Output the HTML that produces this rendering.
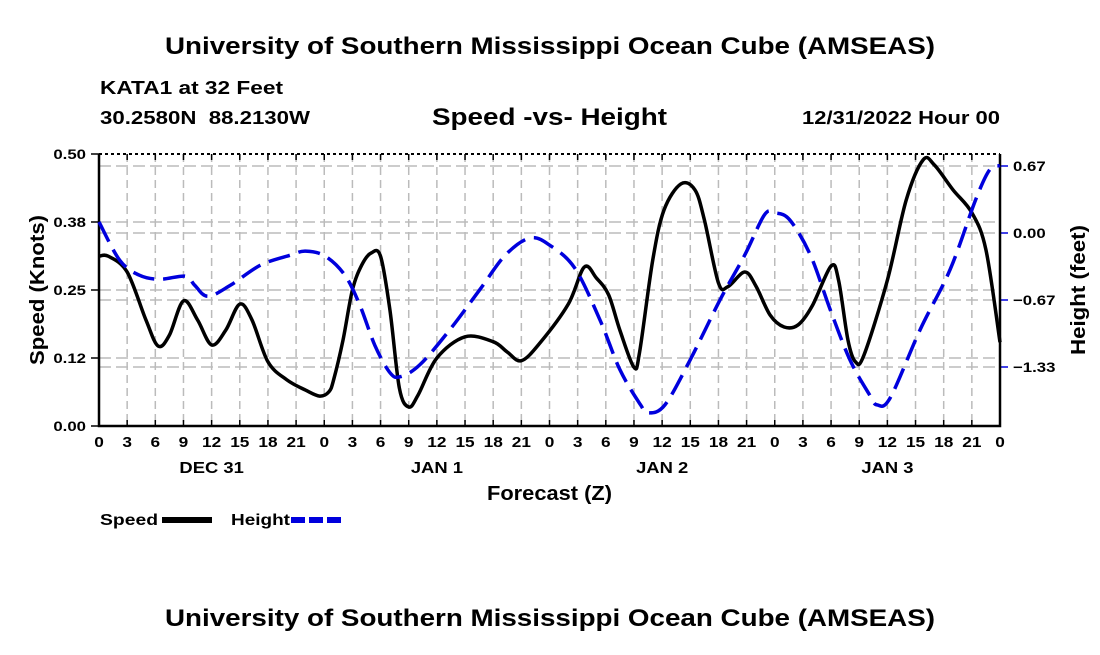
<!DOCTYPE html>
<html><head><meta charset="utf-8"><style>
body{margin:0;background:#fff;}
svg{font-family:"Liberation Sans",sans-serif;font-weight:bold;}
</style></head><body>
<svg id="c" width="1100" height="650" xmlns="http://www.w3.org/2000/svg">
<text x="165" y="54" font-size="24" textLength="770" lengthAdjust="spacingAndGlyphs">University of Southern Mississippi Ocean Cube (AMSEAS)</text>
<text x="100" y="94" font-size="18" textLength="183" lengthAdjust="spacingAndGlyphs">KATA1 at 32 Feet</text>
<text x="100" y="124" font-size="18" textLength="210" lengthAdjust="spacingAndGlyphs" xml:space="preserve">30.2580N  88.2130W</text>
<text x="432" y="125" font-size="24" textLength="235" lengthAdjust="spacingAndGlyphs">Speed -vs- Height</text>
<text x="802" y="124" font-size="18" textLength="198" lengthAdjust="spacingAndGlyphs">12/31/2022 Hour 00</text>
<g id="grid"></g>
<g id="axes"></g>
<g id="series"></g>
<text transform="translate(44,290) rotate(-90)" font-size="20" text-anchor="middle" textLength="150" lengthAdjust="spacingAndGlyphs">Speed (Knots)</text>
<text transform="translate(1085,290) rotate(-90)" font-size="20" text-anchor="middle" textLength="130" lengthAdjust="spacingAndGlyphs">Height (feet)</text>
<text x="487" y="500" font-size="20" textLength="125" lengthAdjust="spacingAndGlyphs">Forecast (Z)</text>
<g>
<text x="100" y="525" font-size="16" textLength="58" lengthAdjust="spacingAndGlyphs">Speed</text>
<line x1="162" y1="520" x2="212" y2="520" stroke="#000" stroke-width="6"/>
<text x="231" y="525" font-size="16" textLength="59" lengthAdjust="spacingAndGlyphs">Height</text>
<line x1="291" y1="520" x2="343" y2="520" stroke="#0000dd" stroke-width="6" stroke-dasharray="14,4"/>
</g>
<text x="165" y="626" font-size="24" textLength="770" lengthAdjust="spacingAndGlyphs">University of Southern Mississippi Ocean Cube (AMSEAS)</text>
</svg>
<script>
const speedHours=[0,1,3,5,6.3,7.5,9,10.5,12,13.5,15,16.3,18,20,22,23.5,24.5,25,26,27,28,29,30,31,32,33,34,36,39,42,43.5,45,47,50,51.7,53,54.3,55.5,57,57.6,59,60.2,62,63.5,64.5,66,67,68.8,70,71.5,73,74.5,76,78,78.8,79.8,80.6,81.5,84,86,87.8,89,91,93,94.5,96];
const speedValues=[0.312,0.312,0.283,0.195,0.147,0.167,0.230,0.195,0.149,0.176,0.224,0.195,0.118,0.085,0.066,0.055,0.063,0.085,0.158,0.250,0.296,0.318,0.312,0.213,0.070,0.035,0.057,0.125,0.164,0.155,0.136,0.120,0.153,0.224,0.292,0.272,0.241,0.176,0.108,0.136,0.305,0.397,0.445,0.434,0.379,0.263,0.256,0.283,0.257,0.204,0.182,0.186,0.221,0.294,0.268,0.158,0.118,0.130,0.268,0.415,0.489,0.480,0.434,0.392,0.324,0.154];
const heightHours=[0,2.2,4.3,6.5,9.2,10.2,11.6,14,17.2,20.4,22,24.1,26.2,27.8,29.4,31,32.1,34.2,37.4,40.6,43.3,45.9,48,50.7,53.4,55.5,57.7,58.5,60.3,63,66.2,68.8,70.9,72,73.6,75.8,77.9,80,82.1,82.9,84.3,87.5,90.7,93.4,94.9,96];
const heightValues=[0.11,-0.27,-0.42,-0.46,-0.43,-0.52,-0.63,-0.52,-0.32,-0.22,-0.18,-0.23,-0.42,-0.72,-1.12,-1.39,-1.43,-1.31,-0.96,-0.56,-0.22,-0.05,-0.12,-0.35,-0.87,-1.36,-1.71,-1.79,-1.71,-1.26,-0.66,-0.22,0.18,0.20,0.13,-0.22,-0.76,-1.26,-1.61,-1.71,-1.64,-0.96,-0.36,0.33,0.63,0.67];
const xTickLabels=["0","3","6","9","12","15","18","21","0","3","6","9","12","15","18","21","0","3","6","9","12","15","18","21","0","3","6","9","12","15","18","21","0"];
const dayLabels=["DEC 31","JAN 1","JAN 2","JAN 3"];
const speedTicks=[0,0.125,0.25,0.375,0.5];
const speedTickLabels=["0.00","0.12","0.25","0.38","0.50"];
const heightTicks=[-4/3,-2/3,0,2/3];
const heightTickLabels=["\u22121.33","\u22120.67","0.00","0.67"];

const L=99,R=1000,T=154,B=426;
const xs=h=>L+(R-L)*h/96;
const ys=v=>B-(B-T)*v/0.5;
const yh=v=>233-v*100.5;
const NS="http://www.w3.org/2000/svg";
function mk(tag,attrs,parent){const e=document.createElementNS(NS,tag);for(const k in attrs)e.setAttribute(k,attrs[k]);parent.appendChild(e);return e;}
const grid=document.getElementById('grid'),axes=document.getElementById('axes'),series=document.getElementById('series');
xTickLabels.forEach((t,i)=>{const x=xs(i*3);
 if(i>0&&i<32){const l=mk('line',{x1:x,y1:T,x2:x,y2:B,stroke:'#bbb','stroke-width':1.5,'stroke-dasharray':'8,5'},grid);
 }
 const tk=mk('line',{x1:x,y1:B,x2:x,y2:B-6,stroke:'#000','stroke-width':1.5},axes);
 
 const tk2=mk('line',{x1:x,y1:T,x2:x,y2:T+6,stroke:'#000','stroke-width':1.5},axes);
 
 const tx=mk('text',{x:0,y:0,'font-size':15,'text-anchor':'middle',transform:`translate(${x},${B+21}) scale(1.15,1)`},axes);tx.textContent=t;
 });
dayLabels.forEach((d,i)=>{const tx=mk('text',{x:0,y:0,'font-size':16,'text-anchor':'middle',transform:`translate(${xs(i*24+12)},${B+47}) scale(1.15,1)`},axes);tx.textContent=d;
 });
speedTicks.forEach((v,i)=>{const y=ys(v);
 if(i>0&&i<4){const l=mk('line',{x1:L,y1:y,x2:R,y2:y,stroke:'#bbb','stroke-width':1.5,'stroke-dasharray':'12,5'},grid);
 }
 const tk=mk('line',{x1:L-8,y1:y,x2:L,y2:y,stroke:'#000','stroke-width':1.5},axes);
 
 const tx=mk('text',{x:0,y:0,'font-size':14,'text-anchor':'end',transform:`translate(${L-13},${y+5}) scale(1.2,1)`},axes);tx.textContent=speedTickLabels[i];
 });
heightTicks.forEach((v,i)=>{const y=yh(v);
 const l=mk('line',{x1:L,y1:y,x2:R,y2:y,stroke:'#bbb','stroke-width':1.5,'stroke-dasharray':'12,5'},grid);
 
 const tk=mk('line',{x1:R,y1:y,x2:R+8,y2:y,stroke:'#0000dd','stroke-width':1.5},axes);
 
 const tx=mk('text',{x:0,y:0,'font-size':14,transform:`translate(${R+13},${y+5}) scale(1.2,1)`},axes);tx.textContent=heightTickLabels[i];
 });
const fr=mk('path',{d:`M${L},${T}V${B}H${R}V${T}`,fill:'none',stroke:'#000','stroke-width':2.5},axes);

const tp=mk('line',{x1:L,y1:T,x2:R,y2:T,stroke:'#000','stroke-width':2,'stroke-dasharray':'3,3'},axes);

const bt=mk('line',{x1:L,y1:B,x2:R,y2:B,stroke:'#000','stroke-width':2,'stroke-dasharray':'3,3'},axes);

function curve(hs,vs,fy){const p=hs.map((h,i)=>[xs(h),fy(vs[i])]);let d=`M${p[0][0]},${p[0][1]}`;
 for(let i=0;i<p.length-1;i++){const p0=p[Math.max(0,i-1)],p1=p[i],p2=p[i+1],p3=p[Math.min(p.length-1,i+2)];
 d+=`C${p1[0]+(p2[0]-p0[0])/6},${p1[1]+(p2[1]-p0[1])/6} ${p2[0]-(p3[0]-p1[0])/6},${p2[1]-(p3[1]-p1[1])/6} ${p2[0]},${p2[1]}`;}return d;}
const sp=mk('path',{d:curve(speedHours,speedValues,ys),fill:'none',stroke:'#000','stroke-width':3.5,'stroke-linejoin':'round'},series);

const hp=mk('path',{d:curve(heightHours,heightValues,yh),fill:'none',stroke:'#0000dd','stroke-width':3.5,'stroke-dasharray':'22,9'},series);

</script>
</body></html>
